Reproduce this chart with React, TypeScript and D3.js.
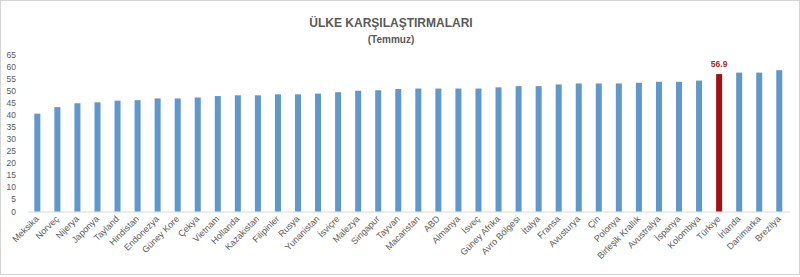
import React from "react";
import * as d3 from "d3";

const countries = [
  "Meksika", "Norveç", "Nijerya", "Japonya", "Tayland", "Hindistan", "Endonezya", "Güney Kore",
  "Çekya", "Vietnam", "Hollanda", "Kazakistan", "Filipinler", "Rusya", "Yunanistan", "İsviçre",
  "Malezya", "Singapur", "Tayvan", "Macaristan", "ABD", "Almanya", "İsveç", "Güney Afrika",
  "Avro Bölgesi", "İtalya", "Fransa", "Avusturya", "Çin", "Polonya", "Birleşik Krallık", "Avustralya",
  "İspanya", "Kolombiya", "Türkiye", "İrlanda", "Danimarka", "Brezilya",
];
const values = [
  40.5, 43.2, 44.8, 45.2, 45.9, 46.1, 46.8, 46.8,
  47.2, 47.8, 48.1, 48.1, 48.5, 48.5, 48.8, 49.4,
  50.0, 50.2, 50.7, 50.9, 50.9, 50.9, 50.9, 51.4,
  51.9, 51.9, 52.6, 53.0, 53.0, 53.0, 53.3, 53.7,
  53.7, 54.2, 56.9, 57.5, 57.5, 58.5,
];
const yTicks = [0, 5, 10, 15, 20, 25, 30, 35, 40, 45, 50, 55, 60, 65];
const highlight = "Türkiye";
const title = "ÜLKE KARŞILAŞTIRMALARI";
const subtitle = "(Temmuz)";

export default function App() {
  const W = 800, H = 277;
  const x = d3.scaleBand<string>().domain(countries).range([27.3, 789.3]).paddingInner(0.7).paddingOuter(0.35);
  const y = d3.scaleLinear().domain([0, 65]).range([211.5, 54.5]);
  const font = "'Liberation Sans', Arial, sans-serif";
  const textColor = "#595959";
  const hi = countries.indexOf(highlight);
  return (
    <svg width={W} height={H} style={{ position: "absolute", left: 0, top: 0, display: "block" }} fontFamily={font}>
      <rect x={0} y={0} width={W} height={H} fill="#fff" />
      <rect x={0.5} y={0.5} width={W - 1} height={274} fill="none" stroke="#d4d4d4" />
      <text x={391} y={27} textAnchor="middle" fontSize={12} fontWeight="bold" fill={textColor}>{title}</text>
      <text x={391} y={43} textAnchor="middle" fontSize={10} fontWeight="bold" fill={textColor}>{subtitle}</text>
      {yTicks.map((t) => (
        <text key={t} x={16} y={y(t) + 3} textAnchor="end" fontSize={8.5} fill={textColor}>{t}</text>
      ))}
      <line x1={28} x2={790} y1={y(0) + 0.5} y2={y(0) + 0.5} stroke="#d9d9d9" />
      {countries.map((c, i) => (
        <rect key={c} x={x(c)} y={y(values[i])} width={x.bandwidth()} height={y(0) - y(values[i])}
          fill={c === highlight ? "#a50f15" : "#5e98cc"} />
      ))}
      <text x={(x(highlight) as number) + x.bandwidth() / 2} y={y(values[hi]) - 7} textAnchor="middle"
        fontSize={8.5} fontWeight="bold" fill="#a52a2a">{values[hi].toFixed(1)}</text>
      {countries.map((c) => {
        const cx = (x(c) as number) + x.bandwidth() / 2 + 2;
        const cy = y(0) + 8;
        return (
          <text key={c} x={cx} y={cy} transform={`rotate(-45 ${cx} ${cy})`} textAnchor="end" fontSize={9} fill={textColor}>{c}</text>
        );
      })}
    </svg>
  );
}
